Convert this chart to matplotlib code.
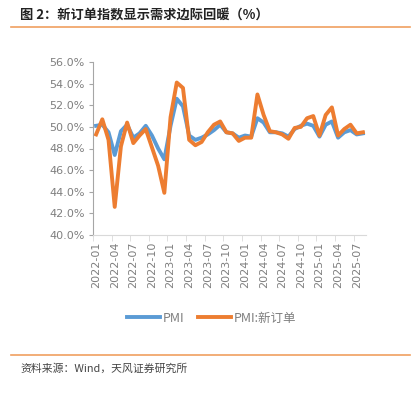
import matplotlib
matplotlib.use("Agg")
from matplotlib import pyplot as plt
from matplotlib.ticker import FixedLocator, FuncFormatter

plt.rcParams['font.family'] = ['Noto Sans CJK SC', 'DejaVu Sans']

# 月份 2022-01 ~ 2025-08
months = [f"{y}-{m:02d}" for y in (2022, 2023, 2024, 2025) for m in range(1, 13)][:44]

pmi = [50.1, 50.2, 49.5, 47.4, 49.6, 50.2, 49.0, 49.4, 50.1, 49.2, 48.0, 47.0,
       50.1, 52.6, 51.9, 49.2, 48.8, 49.0, 49.3, 49.7, 50.2, 49.5, 49.4, 49.0,
       49.2, 49.1, 50.8, 50.4, 49.5, 49.5, 49.4, 49.1, 49.8, 50.1, 50.3, 50.1,
       49.1, 50.2, 50.5, 49.0, 49.5, 49.7, 49.3, 49.4]

new_orders = [49.3, 50.7, 48.8, 42.6, 48.2, 50.4, 48.5, 49.2, 49.8, 48.1, 46.4, 43.9,
              50.9, 54.1, 53.6, 48.8, 48.3, 48.6, 49.5, 50.2, 50.5, 49.5, 49.4, 48.7,
              49.0, 49.0, 53.0, 51.1, 49.6, 49.5, 49.3, 48.9, 49.9, 50.0, 50.8, 51.0,
              49.2, 51.1, 51.8, 49.2, 49.8, 50.2, 49.4, 49.5]

W, H = 411, 393
fig = plt.figure(figsize=(W / 100, H / 100), dpi=100)

# 标题和上下分隔线
fig.text(20 / W, 1 - 15 / H, "图 2：新订单指数显示需求边际回暖（%）", fontsize=9.5,
         fontweight='bold', color='#222222', va='center', ha='left')
fig.add_artist(plt.Line2D([11 / W, 410 / W], [1 - 27 / H, 1 - 27 / H], color='#F0A060', lw=1.2))
fig.add_artist(plt.Line2D([11 / W, 410 / W], [1 - 355 / H, 1 - 355 / H], color='#F0A060', lw=1.2))
fig.text(20 / W, 1 - 369 / H, "资料来源：Wind，天风证券研究所", fontsize=7.8,
         color='#444444', va='center', ha='left')

ax = fig.add_axes([93 / W, 1 - 235 / H, (366 - 93) / W, (235 - 62) / H])
x = list(range(len(months)))
ax.plot(x, pmi, color='#5B9BD5', lw=2.8, label='PMI', solid_joinstyle='round')
ax.plot(x, new_orders, color='#ED7D31', lw=2.8, label='PMI:新订单', solid_joinstyle='round')

ax.set_xlim(-0.5, len(months) - 0.5)
ax.set_ylim(40, 56)
ax.set_yticks([40 + 2 * i for i in range(9)])
ax.yaxis.set_major_formatter(FuncFormatter(lambda v, p: f"{v:.1f}%"))
ax.set_xticks(x[::3])
ax.set_xticklabels(months[::3], rotation=90, family='DejaVu Sans')
for lbl in ax.get_yticklabels():
    lbl.set_family('DejaVu Sans')
ax.xaxis.set_minor_locator(FixedLocator([i - 0.5 for i in x[::3]]))
ax.tick_params(axis='x', which='major', length=0, pad=5, labelsize=8, labelcolor='#7F7F7F')
ax.tick_params(axis='x', which='minor', length=4, color='#D9D9D9')
ax.tick_params(axis='y', length=3, color='#A6A6A6', labelsize=8, labelcolor='#7F7F7F', pad=3)

for s in ('top', 'right'):
    ax.spines[s].set_visible(False)
ax.spines['left'].set_color('#A6A6A6')
ax.spines['bottom'].set_color('#D9D9D9')

fig.legend(loc='center', bbox_to_anchor=(212 / W, 1 - 318 / H), ncol=2, frameon=False,
           fontsize=9, handlelength=2.6, columnspacing=1.1, handletextpad=0.25,
           labelcolor='#7F7F7F')

plt.savefig('out.png', dpi=100)
